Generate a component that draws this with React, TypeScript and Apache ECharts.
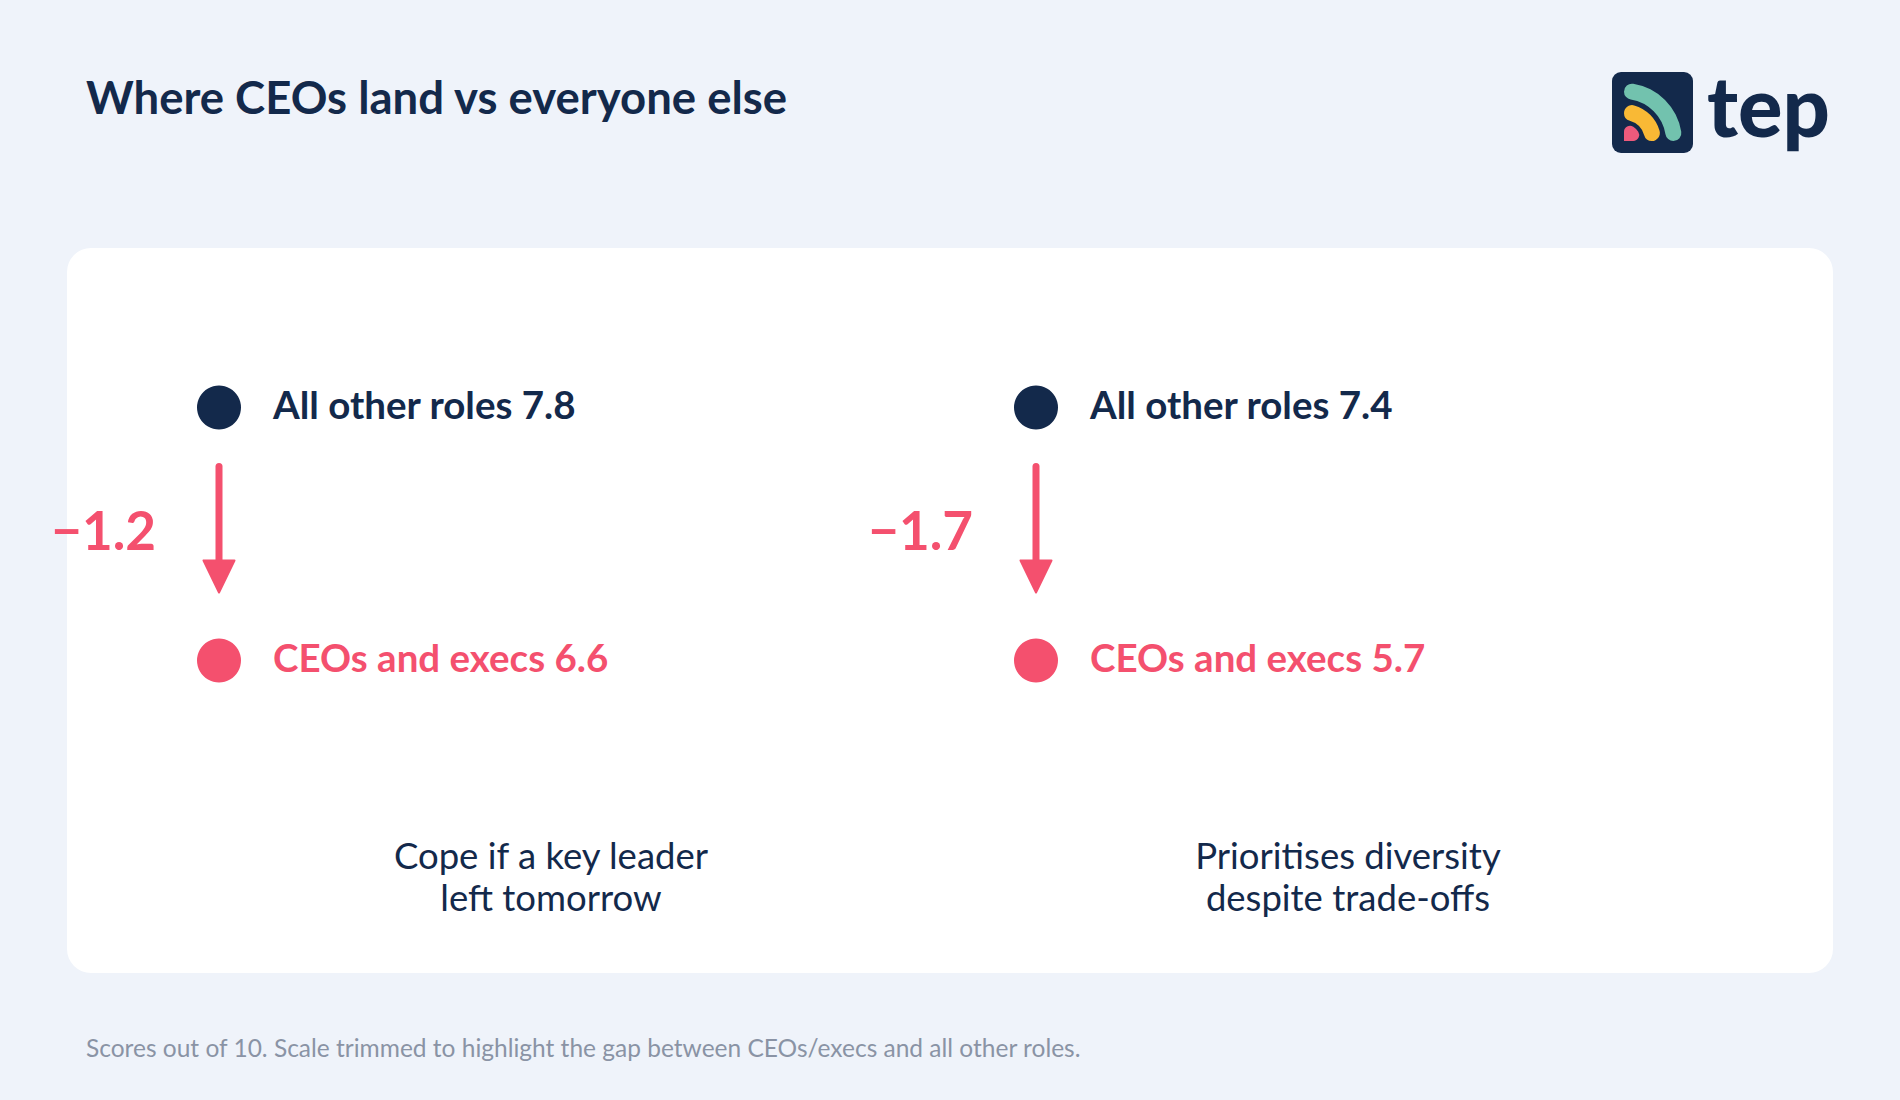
import React, { useEffect, useRef } from "react";
import * as echarts from "echarts";

// ---- data ----
const categories = ["Cope if a key leader\nleft tomorrow", "Prioritises diversity\ndespite trade-offs"];
const groups = ["CEOs and execs", "All other roles"]; // bottom → top
const allOtherRoles = [7.8, 7.4];
const ceosAndExecs = [6.6, 5.7];
const titleText = "Where CEOs land vs everyone else";
const footnoteText = "Scores out of 10. Scale trimmed to highlight the gap between CEOs/execs and all other roles.";
const brandName = "tep";

// ---- style ----
const NAVY = "#13294B";
const PINK = "#F4506E";
const BG = "#EFF3FA";
const NOTE = "#8A93A5";
const FONT = "Lato, 'Noto Sans', sans-serif";

const panelCenterX = [219, 1036];
const labelShift = [332, 312];
const GRID_W = 300;

export default function App() {
  const ref = useRef<HTMLDivElement>(null);
  useEffect(() => {
    if (!ref.current) return;
    const chart = echarts.init(ref.current, undefined, { renderer: "svg" });

    const grids = panelCenterX.map((cx) => ({
      left: cx - GRID_W / 2,
      top: 281,
      width: GRID_W,
      height: 506,
      containLabel: false,
      outerBoundsMode: "none",
    }));
    const xAxes = categories.map((c, i) => ({
      type: "category",
      gridIndex: i,
      data: [c],
      axisLine: { show: false },
      axisTick: { show: false },
      splitLine: { show: false },
      axisLabel: {
        interval: 0,
        margin: 47,
        color: NAVY,
        fontFamily: FONT,
        fontSize: 36.5,
        lineHeight: 42,
        align: "center",
        padding: [0, 0, 0, labelShift[i] * 2],
      },
    }));
    const yAxes = categories.map((_, i) => ({
      type: "category",
      gridIndex: i,
      data: groups,
      show: false,
    }));

    const dotLabel = (name: string, color: string) => ({
      show: true,
      position: "right",
      distance: 32,
      offset: [0, -4],
      formatter: (p: any) => `${name} ${Number(p.value[2]).toFixed(1)}`,
      color,
      fontFamily: FONT,
      fontSize: 38.5,
      fontWeight: "bold",
    });

    const series: any[] = [];
    categories.forEach((c, i) => {
      series.push({
        type: "scatter",
        name: groups[1],
        xAxisIndex: i,
        yAxisIndex: i,
        symbolSize: 44,
        itemStyle: { color: NAVY, opacity: 1 },
        data: [[c, groups[1], allOtherRoles[i]]],
        label: dotLabel(groups[1], NAVY),
        silent: true,
        z: 4,
      });
      series.push({
        type: "scatter",
        name: groups[0],
        xAxisIndex: i,
        yAxisIndex: i,
        symbolSize: 44,
        itemStyle: { color: PINK, opacity: 1 },
        data: [[c, groups[0], ceosAndExecs[i]]],
        label: dotLabel(groups[0], PINK),
        silent: true,
        z: 4,
      });
      series.push({
        type: "custom",
        xAxisIndex: i,
        yAxisIndex: i,
        silent: true,
        z: 3,
        encode: { x: 0, y: [1, 2] },
        data: [[c, groups[1], groups[0], allOtherRoles[i], ceosAndExecs[i]]],
        renderItem: (params: any, api: any) => {
          const xv = api.value(0);
          const top = api.coord([xv, api.value(1)]);
          const bot = api.coord([xv, api.value(2)]);
          const delta = api.value(4) - api.value(3);
          const txt = (delta < 0 ? "\u2212" : "+") + Math.abs(delta).toFixed(1);
          const x = top[0];
          const y1 = top[1] + 59;
          const tip = bot[1] - 68;
          const headH = 32;
          const headW = 31;
          return {
            type: "group",
            children: [
              {
                type: "line",
                shape: { x1: x, y1, x2: x, y2: tip - headH + 4 },
                style: { stroke: PINK, lineWidth: 7, lineCap: "round" },
              },
              {
                type: "polygon",
                shape: { points: [[x - headW / 2, tip - headH], [x + headW / 2, tip - headH], [x, tip]] },
                style: { fill: PINK, stroke: PINK, lineWidth: 2, lineJoin: "round" },
              },
              {
                type: "text",
                x: x - 63,
                y: (top[1] + bot[1]) / 2 - 5,
                style: {
                  text: txt,
                  fill: PINK,
                  fontSize: 53,
                  fontWeight: "bold",
                  fontFamily: FONT,
                  align: "right",
                  verticalAlign: "middle",
                },
              },
            ],
          };
        },
      });
    });

    const q0 = -Math.PI / 2;
    const q1 = 0;
    const lcx = 1624;
    const lcy = 141;

    chart.setOption({
      animation: false,
      backgroundColor: BG,
      title: [
        {
          text: titleText,
          left: 86,
          top: 73,
          padding: 0,
          textStyle: { fontSize: 45.5, fontWeight: "bold", color: NAVY, fontFamily: FONT },
        },
        {
          text: footnoteText,
          left: 86,
          top: 1035,
          padding: 0,
          textStyle: { fontSize: 24.5, fontWeight: "normal", color: NOTE, fontFamily: FONT },
        },
      ],
      graphic: [
        {
          type: "rect",
          z: -10,
          silent: true,
          shape: { x: 67, y: 248, width: 1766, height: 725, r: 24 },
          style: { fill: "#FFFFFF" },
        },
        {
          type: "group",
          z: 10,
          silent: true,
          children: [
            { type: "rect", shape: { x: 1612, y: 72, width: 81, height: 81, r: 9 }, style: { fill: NAVY } },
            {
              type: "sector",
              shape: { cx: lcx, cy: lcy, r0: 42, r: 58, startAngle: q0, endAngle: q1, clockwise: true, cornerRadius: 8 },
              style: { fill: "#72C2AE" },
            },
            {
              type: "sector",
              shape: { cx: lcx, cy: lcy, r0: 21, r: 37, startAngle: q0, endAngle: q1, clockwise: true, cornerRadius: 8 },
              style: { fill: "#F9B935" },
            },
            {
              type: "sector",
              shape: { cx: lcx, cy: lcy, r0: 0, r: 17, startAngle: q0, endAngle: q1, clockwise: true, cornerRadius: 6 },
              style: { fill: "#EE5A7C" },
            },
            {
              type: "text",
              x: 1707,
              y: 105,
              style: {
                text: brandName,
                fill: NAVY,
                fontSize: 83,
                fontWeight: 900,
                fontFamily: FONT,
                align: "left",
                verticalAlign: "middle",
              },
            },
          ],
        },
      ],
      grid: grids,
      xAxis: xAxes,
      yAxis: yAxes,
      series,
    });
    return () => chart.dispose();
  }, []);
  return <div ref={ref} style={{ position: "absolute", left: 0, top: 0, width: 1900, height: 1100 }} />;
}
